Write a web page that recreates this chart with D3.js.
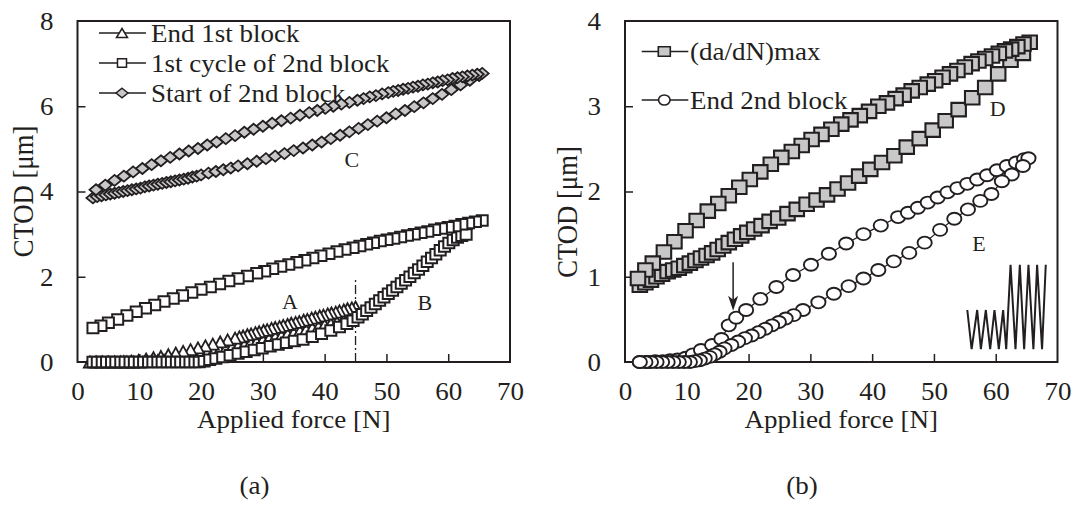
<!DOCTYPE html>
<html>
<head>
<meta charset="utf-8">
<script src="https://cdn.jsdelivr.net/npm/d3@7"></script>
<style>
  html, body { margin: 0; padding: 0; background: #fff; }
  svg { display: block; }
</style>
</head>
<body>
<svg id="chart" width="1075" height="506"></svg>
<script>
// ---------- shared axis data ----------
const forceTicks = [0, 10, 20, 30, 40, 50, 60, 70];
const ctodTicksA = [0, 2, 4, 6, 8];
const ctodTicksB = [0, 1, 2, 3, 4];
const legendA = ["End 1st block", "1st cycle of 2nd block", "Start of 2nd block"];
const legendB = ["(da/dN)max", "End 2nd block"];
const panelCaptions = ["(a)", "(b)"];

// ---------- panel (a): [force N, CTOD um] ----------
const end1stBlock = [
  [2,0],[3,0],[4,0],[5,0],[6,0],[7,0],[8,0],[9,0],[10,0],[11,0.01],[12,0.02],[13,0.03],[14,0.04],[15,0.06],
  [16,0.09],[17,0.12],[18,0.14],[19,0.17],[20,0.2],[21,0.23],[22,0.26],[23,0.29],[24,0.32],[25,0.35],[26,0.38],
  [27,0.41],[28,0.45],[29,0.48],[30,0.52],[31,0.55],[32,0.59],[33,0.62],[34,0.66],[35,0.69],[36,0.73],[37,0.76],
  [38,0.8],[39,0.83],[40,0.87],[41,0.9],[42,0.94],[43,0.98],[44,1.02],[45,1.07],
  [45.0,1.29],[44.4,1.27],[43.7,1.25],[43.1,1.22],[42.4,1.2],[41.8,1.17],[41.1,1.15],[40.5,1.13],[39.8,1.1],
  [39.2,1.08],[38.5,1.05],[37.9,1.03],[37.2,1.0],[36.6,0.98],[35.9,0.95],[35.3,0.93],[34.6,0.91],[34.0,0.88],
  [33.3,0.86],[32.7,0.83],[32.0,0.81],[31.4,0.79],[30.7,0.76],[30.1,0.74],[29.4,0.71],[28.8,0.69],[28.1,0.66],
  [27.5,0.64],[26.8,0.61],[26.2,0.59],[25.5,0.56],[24.3,0.52],[23.1,0.47],[21.9,0.42],[20.7,0.38],[19.5,0.33],
  [18.3,0.29],[17.1,0.25],[15.9,0.21],[14.7,0.17],[13.5,0.13],[12.3,0.1],[11.1,0.07],[9.9,0.04],[8.7,0.02],[7.5,0.01]
];
const firstCycle2ndBlock = [
  [2.5,0],[3.2,0],[4.0,0],[4.7,0],[5.5,0],[6.2,0],[7.0,0],[7.7,0],[8.5,0],[9.2,0],[10.0,0],[10.7,0],[11.5,0],
  [12.2,0],[13.0,0],[13.7,0],[14.5,0],[15.2,0],[16.0,0],[16.7,0],[17.5,0],[18.2,0],[19.0,0],[19.7,0],
  [20.5,0.02],[21.4,0.05],[22.4,0.08],[23.5,0.12],[24.7,0.16],[26.0,0.2],[27.3,0.24],[28.6,0.28],[29.9,0.32],
  [31.2,0.37],[32.5,0.41],[33.8,0.45],[35.1,0.49],[36.5,0.53],[38.0,0.59],[39.5,0.66],[41.0,0.74],[42.4,0.82],
  [43.6,0.9],[44.6,0.97],[45.4,1.05],
  [46.1,1.12],[46.8,1.2],[47.5,1.28],[48.2,1.36],[48.9,1.44],[49.6,1.52],[50.3,1.6],[51.0,1.68],[51.7,1.76],
  [52.4,1.84],[53.1,1.92],[53.8,2.0],[54.5,2.09],[55.2,2.17],[55.9,2.26],[56.6,2.35],[57.3,2.44],[58.0,2.53],
  [58.7,2.62],[59.4,2.71],[60.1,2.79],[60.8,2.86],[61.5,2.92],[62.2,2.96],[62.9,2.99],
  [65.5,3.32],[64.4,3.29],[63.3,3.26],[62.2,3.23],[61.1,3.19],[60.0,3.16],[58.9,3.13],[57.8,3.1],[56.7,3.06],
  [55.6,3.03],[54.5,3.0],[53.4,2.97],[52.3,2.93],[51.2,2.9],[50.1,2.87],[49.0,2.84],[47.9,2.8],[46.8,2.76],
  [45.7,2.72],[44.6,2.68],[43.3,2.64],[42.0,2.59],[40.7,2.54],[39.4,2.49],[38.1,2.44],[36.8,2.39],[35.5,2.34],
  [34.2,2.29],[32.9,2.24],[31.6,2.19],[30.3,2.13],[29.0,2.08],[27.5,2.02],[26.0,1.96],[24.5,1.9],[23.0,1.83],
  [21.5,1.76],[20.0,1.7],[18.5,1.63],[17.0,1.56],[15.5,1.49],[14.0,1.42],[12.5,1.34],[11.0,1.26],[9.5,1.18],
  [8.0,1.09],[6.5,1.0],[5.0,0.92],[3.8,0.85],[2.5,0.8]
];
const start2ndBlock = [
  [2.5,3.85],[3.2,3.88],[3.9,3.9],[4.6,3.92],[5.3,3.94],[6.0,3.96],[6.7,3.98],[7.4,4.0],[8.1,4.02],[8.8,4.04],
  [9.5,4.06],[10.2,4.08],[10.9,4.11],[11.6,4.13],[12.3,4.15],[13.0,4.17],[13.7,4.19],[14.4,4.21],[15.1,4.23],
  [15.8,4.25],[16.5,4.27],[17.2,4.29],[17.9,4.31],[18.6,4.34],[19.3,4.36],[20.0,4.39],[21.2,4.43],[22.4,4.47],
  [23.6,4.51],[24.8,4.55],[26.0,4.6],[27.5,4.65],[29.0,4.71],[30.5,4.77],[32.0,4.83],[33.5,4.89],[35.0,4.96],
  [36.5,5.02],[38.0,5.09],[39.5,5.16],[41.0,5.24],[42.5,5.32],[44.0,5.4],[45.5,5.48],[47.0,5.57],[48.5,5.65],
  [50.0,5.73],[51.5,5.82],[53.0,5.9],[54.5,5.99],[56.0,6.08],[57.5,6.18],[59.0,6.28],[60.5,6.39],[62.0,6.5],
  [63.5,6.61],[65.0,6.72],
  [65.5,6.77],[64.7,6.75],[63.9,6.73],[63.1,6.71],[62.3,6.69],[61.5,6.67],[60.7,6.65],[59.9,6.62],[59.1,6.6],
  [58.3,6.57],[57.5,6.55],[56.7,6.52],[55.9,6.5],[55.1,6.47],[54.3,6.45],[53.5,6.42],[52.7,6.4],[51.9,6.37],
  [51.1,6.35],[50.3,6.32],[49.3,6.29],[48.3,6.25],[47.3,6.22],[46.3,6.18],[45.3,6.14],[44.0,6.09],[42.7,6.05],
  [41.4,6.0],[40.1,5.95],[38.8,5.9],[37.5,5.85],[36.0,5.79],[34.5,5.72],[33.0,5.66],[31.5,5.6],[30.0,5.53],
  [28.5,5.46],[27.0,5.39],[25.5,5.31],[24.0,5.24],[22.5,5.16],[21.0,5.09],[19.5,5.01],[18.0,4.95],[16.5,4.88],
  [15.0,4.8],[13.5,4.72],[12.0,4.63],[10.5,4.54],[9.0,4.46],[7.5,4.36],[6.0,4.26],[4.5,4.15],[3.0,4.04]
];

// ---------- panel (b): [force N, CTOD um] ----------
const dadnMax = [
  [2.4,0.9],[3.3,0.93],[4.2,0.96],[5.1,1.0],[6.0,1.03],[6.9,1.06],[7.8,1.08],[8.7,1.1],[9.6,1.13],[10.5,1.16],
  [11.4,1.19],[12.3,1.22],[13.2,1.25],[14.1,1.28],[15.0,1.32],[15.9,1.36],[16.8,1.4],[17.8,1.44],[18.8,1.48],
  [19.8,1.52],[20.9,1.56],[22.1,1.6],[23.4,1.65],[24.8,1.69],[26.3,1.74],[27.8,1.79],[29.4,1.85],[31.0,1.9],
  [32.7,1.96],[34.4,2.03],[36.1,2.1],[37.9,2.18],[39.7,2.26],[41.6,2.34],[43.6,2.42],[45.6,2.52],[47.7,2.62],
  [49.8,2.72],[51.9,2.83],[54.0,2.96],[56.2,3.1],[58.3,3.22],[60.4,3.38],[62.4,3.54],[64.4,3.62],
  [65.5,3.75],[64.5,3.73],[63.5,3.7],[62.5,3.67],[61.5,3.65],[60.5,3.62],[59.4,3.59],[58.3,3.56],[57.2,3.53],
  [56.1,3.5],[55.0,3.46],[53.8,3.42],[52.6,3.38],[51.4,3.34],[50.2,3.3],[49.0,3.26],[47.7,3.22],[46.4,3.18],
  [45.1,3.13],[43.8,3.09],[42.4,3.04],[41.0,3.0],[39.5,2.94],[38.0,2.89],[36.5,2.84],[35.0,2.79],[33.4,2.73],
  [31.8,2.67],[30.2,2.61],[28.6,2.54],[27.0,2.47],[25.3,2.4],[23.6,2.32],[21.9,2.23],[20.2,2.14],[18.5,2.05],
  [16.8,1.95],[15.1,1.86],[13.4,1.77],[11.6,1.66],[9.8,1.54],[8.0,1.41],[6.3,1.29],[4.5,1.16],[3.3,1.08],[2.1,0.98]
];
const end2ndBlock = [
  [2.4,0],[3.6,0],[4.9,0.01],[6.1,0.01],[7.3,0.02],[8.5,0.03],[9.8,0.05],[11.0,0.09],[12.3,0.14],[14.1,0.2],
  [15.6,0.27],[16.8,0.43],[18.0,0.52],[19.6,0.61],[21.9,0.74],[24.5,0.88],[27.2,1.02],[30.1,1.14],[33.0,1.27],
  [35.8,1.39],[38.6,1.5],[41.4,1.6],[44.2,1.7],[45.8,1.75],[47.4,1.81],[49.0,1.87],[50.6,1.93],[52.2,1.99],
  [53.8,2.04],[55.4,2.09],[57.0,2.14],[58.6,2.19],[60.2,2.25],[61.8,2.3],[63.3,2.34],[64.6,2.38],[65.3,2.39],
  [64.4,2.3],[62.6,2.2],[61.0,2.12],[59.3,1.97],[57.5,1.89],[55.5,1.79],[53.3,1.68],[51.0,1.55],[48.5,1.4],
  [46.0,1.28],[43.5,1.18],[41.0,1.08],[38.6,0.98],[36.2,0.89],[33.8,0.8],[31.3,0.7],[28.8,0.61],[27.3,0.55],
  [26.0,0.51],[24.9,0.47],[23.8,0.43],[22.7,0.39],[21.6,0.35],[20.5,0.31],[19.4,0.28],[18.3,0.24],[17.2,0.2],
  [16.1,0.16],[15.3,0.12],[14.5,0.09],[13.7,0.06],[12.9,0.04],[12.1,0.02],[11.3,0.01],[10.5,0],[9.6,0],[8.7,0],
  [7.8,0],[6.9,0],[6.0,0],[5.1,0],[4.2,0],[3.3,0],[2.4,0]
];
// loading-block sketch drawn in the corner of panel (b)
const blockWave = [
  [55.4,0.61],[56.1,0.15],[57.0,0.61],[57.6,0.15],[58.4,0.61],[59.1,0.15],[59.8,0.61],[60.5,0.15],[61.2,0.61],
  [61.7,0.15],[62.4,1.14],[63.2,0.15],[63.9,1.14],[64.6,0.15],[65.3,1.14],[66.1,0.15],[66.7,1.14],[67.5,0.15],[68.1,1.14]
];

// ---------- annotations ----------
const lettersA = [{t: "A", f: 34.4, c: 1.41}, {t: "B", f: 56.2, c: 1.38}, {t: "C", f: 44.4, c: 4.74}];
const lettersB = [{t: "D", f: 60.3, c: 2.97}, {t: "E", f: 57.3, c: 1.39}];
const dividerForce = 45, dividerTop = 1.97;
const arrowForce = 17.5, arrowFrom = 1.17, arrowTo = 0.6;

// ---------- drawing ----------
const FONT = '"Liberation Serif", "Times New Roman", serif';
const INK = '#231f20';
const GREY = '#c8c8c8';
const VSQ = 0.92;           // glyphs are set slightly squat
const svg = d3.select('#chart');
const PLOT_TOP = 21, PLOT_BOTTOM = 362;

function label(g, x, y, str, size, anchor) {
  return g.append('text')
    .attr('transform', `translate(${x},${y}) scale(1,${VSQ})`)
    .attr('text-anchor', anchor || 'start')
    .attr('font-family', FONT).attr('font-size', size).attr('fill', INK)
    .text(str);
}

function shapePath(kind, w, h) {
  const a = w / 2, b = h / 2;
  if (kind === 'square') return `M${-a},${-b}H${a}V${b}H${-a}Z`;
  if (kind === 'triangle') return `M0,${-b}L${a},${b}L${-a},${b}Z`;
  if (kind === 'diamond') return `M0,${-b}L${a},0L0,${b}L${-a},0Z`;
  return '';
}

function drawMarker(g, kind, cx, cy, st) {
  if (kind === 'circle') {
    g.append('ellipse').attr('cx', cx).attr('cy', cy).attr('rx', st.w / 2).attr('ry', st.h / 2)
      .attr('fill', st.fill).attr('stroke', INK).attr('stroke-width', st.sw);
  } else {
    g.append('path').attr('d', shapePath(kind, st.w, st.h))
      .attr('transform', `translate(${cx},${cy})`)
      .attr('fill', st.fill).attr('stroke', INK).attr('stroke-width', st.sw);
  }
}

function drawPanel(p) {
  const x = d3.scaleLinear().domain([0, 70]).range([p.left, p.right]);
  const y = d3.scaleLinear().domain([0, p.yMax]).range([PLOT_BOTTOM, PLOT_TOP]);
  const g = svg.append('g');

  // legend (sits underneath the data marks)
  p.series.forEach((s, i) => {
    const ly = p.legendY[i];
    g.append('line').attr('x1', p.left + p.legendX[0]).attr('x2', p.left + p.legendX[2])
      .attr('y1', ly).attr('y2', ly).attr('stroke', INK).attr('stroke-width', 1.6);
    drawMarker(g, s.kind, p.left + p.legendX[1], ly, s.legendStyle);
    label(g, p.left + p.legendX[3], ly + 8.5, p.legend[i], 27);
  });

  // axes with inward ticks
  const xa = g.append('g').attr('transform', `translate(0,${PLOT_BOTTOM})`)
    .call(d3.axisBottom(x).tickValues(forceTicks).tickFormat(d3.format('d'))
      .tickSizeInner(-8).tickSizeOuter(0).tickPadding(20));
  xa.select('.domain').remove();
  xa.selectAll('.tick line').attr('stroke', INK).attr('stroke-width', 1.5);
  xa.selectAll('.tick').filter(d => d === 0 || d === 70).select('line').remove();
  xa.selectAll('.tick text').attr('y', null).attr('dy', null)
    .attr('transform', `translate(0,38) scale(1,${VSQ})`)
    .attr('font-family', FONT).attr('font-size', 27).attr('fill', INK);

  const ya = g.append('g').attr('transform', `translate(${p.left},0)`)
    .call(d3.axisLeft(y).tickValues(p.yTicks).tickFormat(d3.format('d'))
      .tickSizeInner(-8).tickSizeOuter(0).tickPadding(20));
  ya.select('.domain').remove();
  ya.selectAll('.tick line').attr('stroke', INK).attr('stroke-width', 1.5);
  ya.selectAll('.tick').filter(d => d === 0 || d === p.yMax).select('line').remove();
  ya.selectAll('.tick text').attr('x', null).attr('dy', null)
    .attr('transform', `translate(-24,8.4) scale(1,${VSQ})`)
    .attr('font-family', FONT).attr('font-size', 27).attr('fill', INK);

  // plot frame
  g.append('rect').attr('x', p.left).attr('y', PLOT_TOP)
    .attr('width', p.right - p.left).attr('height', PLOT_BOTTOM - PLOT_TOP)
    .attr('fill', 'none').attr('stroke', INK).attr('stroke-width', 2);

  // axis titles and caption
  label(g, (p.left + p.right) / 2, 428, 'Applied force [N]', 27, 'middle');
  g.append('text')
    .attr('transform', `translate(${p.left - p.titleGap},${p.titleMid}) rotate(-90) scale(${VSQ},1)`)
    .attr('text-anchor', 'middle').attr('font-family', FONT).attr('font-size', 29).attr('fill', INK)
    .text('CTOD [\u03bcm]');
  label(g, p.left + 177, 494, p.caption, 27, 'middle');

  if (p.extras) p.extras(g, x, y);

  // data series: connecting line then markers
  const line = d3.line().x(d => x(d[0])).y(d => y(d[1]));
  p.series.forEach(s => {
    g.append('path').attr('d', line(s.data)).attr('fill', 'none').attr('stroke', INK).attr('stroke-width', 1.2);
    const mg = g.append('g');
    s.data.forEach(d => drawMarker(mg, s.kind, x(d[0]), y(d[1]), s.style));
  });

  // branch letters
  p.letters.forEach(l => label(g, x(l.f), y(l.c) + 7, l.t, 22, 'middle'));
}

drawPanel({
  left: 77.5, right: 510, yMax: 8, yTicks: ctodTicksA, caption: panelCaptions[0],
  titleGap: 44.5, titleMid: 191.5,
  legend: legendA, legendY: [33, 63, 93], legendX: [21.5, 44.5, 68.5, 73.5],
  letters: lettersA,
  series: [
    {data: end1stBlock, kind: 'triangle', style: {w: 12, h: 11, fill: '#fff', sw: 1.8}, legendStyle: {w: 11, h: 9, fill: '#fff', sw: 1.5}},
    {data: firstCycle2ndBlock, kind: 'square', style: {w: 11, h: 10.5, fill: '#fff', sw: 2}, legendStyle: {w: 9, h: 8.5, fill: '#fff', sw: 1.5}},
    {data: start2ndBlock, kind: 'diamond', style: {w: 13, h: 11, fill: GREY, sw: 1.8}, legendStyle: {w: 12, h: 9.5, fill: GREY, sw: 1.5}}
  ],
  extras: (g, x, y) => {
    g.append('line').attr('x1', x(dividerForce)).attr('x2', x(dividerForce))
      .attr('y1', y(0)).attr('y2', y(dividerTop))
      .attr('stroke', INK).attr('stroke-width', 1.3).attr('stroke-dasharray', '9,3,2,3');
  }
});

drawPanel({
  left: 625, right: 1057.5, yMax: 4, yTicks: ctodTicksB, caption: panelCaptions[1],
  titleGap: 48, titleMid: 212,
  legend: legendB, legendY: [51.5, 100], legendX: [16.7, 39.3, 63.3, 65],
  letters: lettersB,
  series: [
    {data: dadnMax, kind: 'square', style: {w: 14.5, h: 13.5, fill: GREY, sw: 2.1}, legendStyle: {w: 12, h: 9.5, fill: GREY, sw: 1.6}},
    {data: end2ndBlock, kind: 'circle', style: {w: 14.2, h: 12, fill: '#fff', sw: 1.9}, legendStyle: {w: 11.5, h: 10, fill: '#fff', sw: 1.6}}
  ],
  extras: (g, x, y) => {
    // loading block sketch
    g.append('path').attr('d', d3.line().x(d => x(d[0])).y(d => y(d[1]))(blockWave))
      .attr('fill', 'none').attr('stroke', INK).attr('stroke-width', 2).attr('stroke-linejoin', 'miter');
    // arrow pointing at the change of slope
    const ax = x(arrowForce), tip = y(arrowTo);
    g.append('line').attr('x1', ax).attr('x2', ax).attr('y1', y(arrowFrom)).attr('y2', tip - 10)
      .attr('stroke', INK).attr('stroke-width', 1.5);
    g.append('path').attr('d', `M${ax},${tip}L${ax - 5},${tip - 15}L${ax},${tip - 11}L${ax + 5},${tip - 15}Z`)
      .attr('fill', INK);
  }
});
</script>
</body>
</html>
